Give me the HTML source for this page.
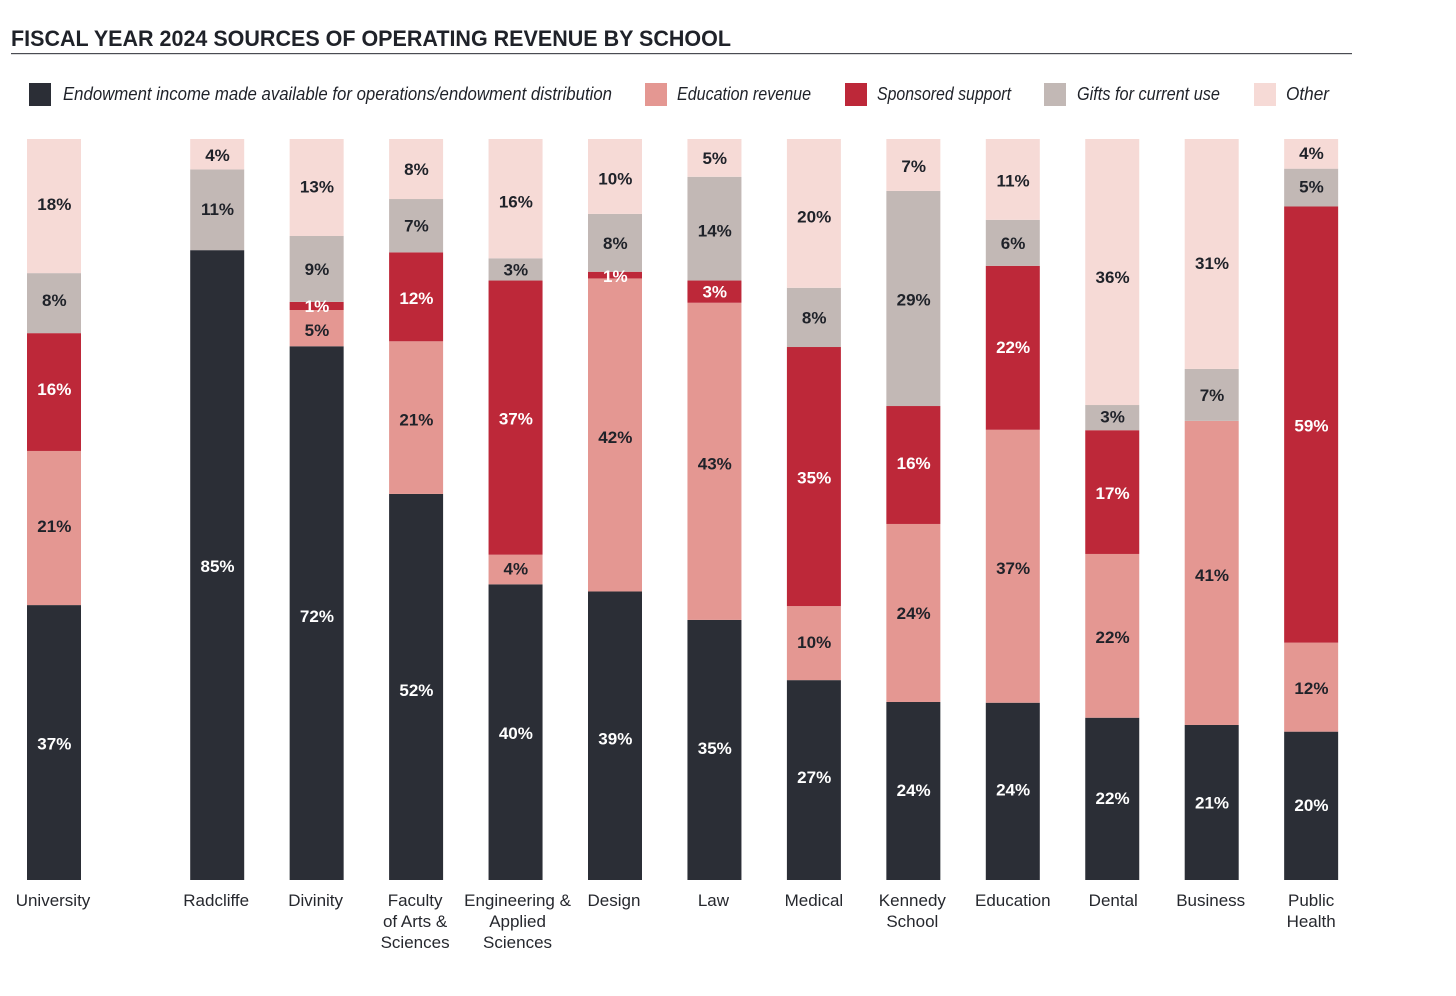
<!DOCTYPE html>
<html lang="en">
<head>
<meta charset="utf-8">
<title>Fiscal Year 2024 Sources of Operating Revenue by School</title>
<style>
html,body{margin:0;padding:0;background:#fff;}
svg{display:block;font-family:"Liberation Sans",sans-serif;}
</style>
</head>
<body>
<svg id="chart" xmlns="http://www.w3.org/2000/svg" width="1456" height="996" viewBox="0 0 1456 996">
  <text x="11" y="46" font-size="22" font-weight="bold" fill="#1f2229" textLength="720" lengthAdjust="spacingAndGlyphs">FISCAL YEAR 2024 SOURCES OF OPERATING REVENUE BY SCHOOL</text>
  <rect x="11" y="53" width="1341" height="1.2" fill="#4a4c52"/>
  <g font-size="18" font-style="italic" fill="#1f2229">
    <rect x="29" y="83" width="22" height="23" fill="#2b2e36"/>
    <text x="63" y="100" textLength="549" lengthAdjust="spacingAndGlyphs">Endowment income made available for operations/endowment distribution</text>
    <rect x="645" y="83" width="22" height="23" fill="#e49792"/>
    <text x="677" y="100" textLength="134" lengthAdjust="spacingAndGlyphs">Education revenue</text>
    <rect x="845" y="83" width="22" height="23" fill="#bd2839"/>
    <text x="877" y="100" textLength="134" lengthAdjust="spacingAndGlyphs">Sponsored support</text>
    <rect x="1044" y="83" width="22" height="23" fill="#c2b8b5"/>
    <text x="1077" y="100" textLength="143" lengthAdjust="spacingAndGlyphs">Gifts for current use</text>
    <rect x="1254" y="83" width="22" height="23" fill="#f6dad6"/>
    <text x="1286" y="100" textLength="43" lengthAdjust="spacingAndGlyphs">Other</text>
  </g>
  <g id="bars"></g>
  <g id="labels"></g>
</svg>
<script>
const categories = [
  ["University"], ["Radcliffe"], ["Divinity"], ["Faculty", "of Arts &", "Sciences"],
  ["Engineering &", "Applied", "Sciences"], ["Design"], ["Law"], ["Medical"],
  ["Kennedy", "School"], ["Education"], ["Dental"], ["Business"], ["Public", "Health"]
];
const seriesNames = ["endowment", "education", "sponsored", "gifts", "other"];
const endowment = [37.1, 85.0, 72.1, 52.1, 39.9, 38.9, 35.1, 27.0, 24.0, 23.9, 21.9, 20.9, 20.0];
const education = [20.8, 0, 4.9, 20.6, 4.0, 42.2, 42.8, 10.0, 24.0, 36.8, 22.1, 41.0, 12.0];
const sponsored = [15.9, 0, 1.1, 12.0, 37.0, 0.9, 3.0, 35.0, 15.9, 22.1, 16.7, 0, 58.8];
const gifts = [8.1, 10.9, 8.9, 7.2, 3.0, 7.8, 14.0, 8.0, 29.0, 6.2, 3.4, 7.0, 5.1];
const other = [18.1, 4.1, 13.1, 8.1, 16.1, 10.1, 5.1, 20.1, 7.0, 10.9, 35.9, 31.0, 4.0];
const seriesValues = [endowment, education, sponsored, gifts, other];

const NS = "http://www.w3.org/2000/svg";
const fills = ["#2b2e36", "#e49792", "#bd2839", "#c2b8b5", "#f6dad6"];
const textFills = ["#ffffff", "#1f2229", "#ffffff", "#1f2229", "#1f2229"];
const plotTop = 139, plotBottom = 880, barWidth = 54;

/* Typographic nudges: how far the printed label sits from its segment's centre. */
const labelNudges = [
  [1, 1, 3, 3, 1, 3, -2, -3, -1, -2, -1, 0, -1],
  [-2, 0, 2, 2, -1, 2, 2, -1, 0, 2, 1, 2, 1],
  [-3, 0, 0, 1, 1, 1, 0, 1, -2, -1, 1, 0, 1],
  [-3, -1, 0, 0, 0, 0, 2, 0, 1, 0, -1, 0, -1],
  [-2, 1, -1, 0, 3, 2, 0, 3, 1, 1, 5, 9, -1]
];
const categoryLabelShift = [-1, -1, -1, -1, 2, -1, -1, 0, -1, 0, 1, -1, 0];

function xScale(i) {
  return i === 0 ? 27 : 190.2 + (i - 1) * 99.45;
}
function yScale(v) {
  return plotBottom - (v / 100) * (plotBottom - plotTop);
}

const barsGroup = document.getElementById("bars");
const labelsGroup = document.getElementById("labels");

categories.forEach(function (lines, i) {
  const key = lines.join("-").toLowerCase().replace(/[^a-z-]+/g, "");
  const x = xScale(i);
  const total = seriesValues.reduce(function (s, arr) { return s + arr[i]; }, 0);
  const norm = 100 / total;
  let acc = 0;
  const group = document.createElementNS(NS, "g");
  
  
  barsGroup.appendChild(group);
  const pendingText = [];
  seriesValues.forEach(function (arr, s) {
    const v = arr[i];
    if (v <= 0) return;
    const y0 = yScale(acc * norm);
    const y1 = yScale((acc + v) * norm);
    const r = document.createElementNS(NS, "rect");
    
    
    r.setAttribute("x", x);
    r.setAttribute("y", y1);
    r.setAttribute("width", barWidth);
    r.setAttribute("height", y0 - y1);
    r.setAttribute("fill", fills[s]);
    group.appendChild(r);
    const t = document.createElementNS(NS, "text");
    
    
    t.setAttribute("x", x + barWidth / 2 + 0.3);
    t.setAttribute("y", (y0 + y1) / 2 + 6 + labelNudges[s][i]);
    t.setAttribute("text-anchor", "middle");
    t.setAttribute("font-size", "17");
    t.setAttribute("font-weight", "bold");
    t.setAttribute("fill", textFills[s]);
    t.textContent = Math.round(v) + "%";
    pendingText.push(t);
    acc += v;
  });
  pendingText.forEach(function (t) { group.appendChild(t); });

  const label = document.createElementNS(NS, "text");
  
  
  label.setAttribute("font-size", "17");
  label.setAttribute("fill", "#26282e");
  label.setAttribute("text-anchor", "middle");
  lines.forEach(function (line, j) {
    const ts = document.createElementNS(NS, "tspan");
    ts.setAttribute("x", x + barWidth / 2 + categoryLabelShift[i]);
    ts.setAttribute("y", 906 + j * 21);
    ts.textContent = line;
    label.appendChild(ts);
  });
  labelsGroup.appendChild(label);
});
</script>
</body>
</html>
